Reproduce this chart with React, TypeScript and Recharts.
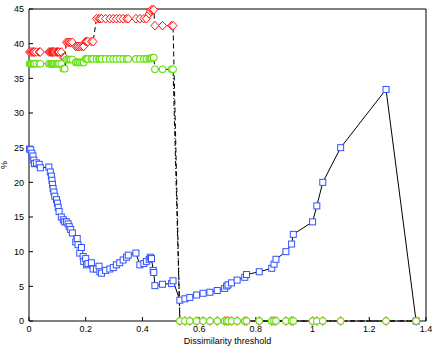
import React from "react";
import { LineChart, Line, XAxis, YAxis } from "recharts";

// thresholds shared by all three series
const thresholds = [
  0.002, 0.006, 0.01, 0.014, 0.017, 0.019, 0.026, 0.036, 0.04, 0.07,
  0.075, 0.079, 0.081, 0.083, 0.085, 0.088, 0.091, 0.097, 0.1, 0.103,
  0.106, 0.114, 0.121, 0.126, 0.132, 0.138, 0.142, 0.147, 0.153, 0.165,
  0.17, 0.173, 0.179, 0.185, 0.191, 0.193, 0.2, 0.203, 0.208, 0.22,
  0.226, 0.238, 0.247, 0.25, 0.256, 0.27, 0.285, 0.297, 0.308, 0.32,
  0.332, 0.344, 0.35, 0.377, 0.391, 0.405, 0.414, 0.424, 0.428, 0.432,
  0.438, 0.44, 0.444, 0.471, 0.503, 0.508, 0.532, 0.55, 0.567, 0.591,
  0.614, 0.638, 0.664, 0.69, 0.697, 0.702, 0.714, 0.734, 0.761, 0.767,
  0.812, 0.856, 0.864, 0.871, 0.906, 0.926, 0.932, 1.0, 1.015, 1.036,
  1.099, 1.259, 1.365,
];

const bluePct = [
  24.8, 24.7, 24.2, 23.8, 23.2, 22.7, 22.8, 22.6, 22.1, 22.2,
  21.5, 20.9, 20.3, 19.7, 19.1, 18.6, 18.0, 17.5, 17.0, 16.4,
  15.8, 15.0, 14.6, 14.3, 14.3, 14.0, 13.6, 13.2, 12.7, 11.4,
  11.9, 11.0, 9.8, 10.6, 9.3, 8.6, 9.0, 8.1, 8.3, 8.4,
  7.5, 7.5, 7.9, 7.1, 6.9, 7.3, 7.5, 7.7, 8.1, 8.4,
  8.8, 9.2, 9.5, 9.8, 8.1, 8.3, 8.6, 8.9, 9.2, 9.0,
  7.3, 7.0, 5.1, 5.3, 5.4, 5.8, 3.0, 3.2, 3.4, 3.75,
  4.0, 4.15, 4.4, 4.7, 5.05, 5.2, 5.5, 5.9, 6.3, 6.7,
  7.1, 7.6, 8.2, 8.9, 10.0, 11.1, 12.5, 14.3, 16.6, 20.0,
  25.0, 33.4, 0,
];

const redPct = [
  38.8, 38.8, 38.8, 38.8, 38.8, 38.8, 38.8, 38.8, 38.8, 38.8,
  38.8, 38.8, 38.8, 38.8, 38.8, 38.8, 38.8, 38.8, 38.8, 38.8,
  38.8, 38.8, 38.0, 38.0, 40.2, 40.2, 40.2, 40.2, 40.2, 39.6,
  39.6, 39.6, 39.6, 39.6, 39.6, 39.6, 40.3, 40.3, 40.3, 40.3,
  40.3, 43.6, 43.6, 43.6, 43.6, 43.6, 43.6, 43.6, 43.6, 43.6,
  43.6, 43.6, 43.6, 43.6, 43.6, 43.6, 43.6, 44.3, 44.7, 44.9,
  44.9, 44.9, 42.6, 42.6, 42.6, 42.6, 0, 0, 0, 0,
  0, 0, 0, 0, 0, 0, 0, 0, 0, 0,
  0, 0, 0, 0, 0, 0, 0, 0, 0, 0,
  0, 0, 0,
];

const greenPct = [
  37.1, 37.1, 37.1, 37.1, 37.1, 37.1, 37.1, 37.1, 37.1, 37.1,
  37.1, 37.1, 37.1, 37.1, 37.1, 37.1, 37.1, 37.1, 37.1, 37.1,
  37.1, 37.1, 36.4, 36.4, 37.7, 37.7, 37.7, 37.7, 37.7, 37.3,
  37.3, 37.3, 37.3, 37.3, 37.3, 37.3, 37.8, 37.8, 37.8, 37.8,
  37.8, 37.8, 37.8, 37.8, 37.8, 37.8, 37.8, 37.8, 37.8, 37.8,
  37.8, 37.8, 37.8, 37.8, 37.8, 37.8, 37.8, 37.8, 37.9, 37.9,
  38.0, 38.0, 36.3, 36.3, 36.3, 36.3, 0, 0, 0, 0,
  0, 0, 0, 0, 0, 0, 0, 0, 0, 0,
  0, 0, 0, 0, 0, 0, 0, 0, 0, 0,
  0, 0, 0,
];

const xTicks = [0, 0.2, 0.4, 0.6, 0.8, 1, 1.2, 1.4];
const yTicks = [0, 5, 10, 15, 20, 25, 30, 35, 40, 45];

const rows = thresholds.map((x, i) => ({
  x,
  blue: bluePct[i],
  red: redPct[i],
  green: greenPct[i],
}));

const BLUE = "#3050ff";
const RED = "#ff1010";
const GREEN = "#66e010";
const FONT = "'Liberation Sans', Arial, Helvetica, sans-serif";
const tickStyle = { fontSize: 9, fill: "#000", fontFamily: FONT };

const SquareDot = (props: any) => {
  const { cx, cy, index } = props;
  if (cx == null || cy == null) return <g key={index} />;
  return (
    <rect key={index} x={cx - 3} y={cy - 3} width={6} height={6}
      fill="#fff" stroke={BLUE} strokeWidth={1} />
  );
};

const DiamondDot = (props: any) => {
  const { cx, cy, index } = props;
  if (cx == null || cy == null) return <g key={index} />;
  const d = `M${cx},${cy - 4.3}L${cx + 4},${cy}L${cx},${cy + 4.3}L${cx - 4},${cy}Z`;
  return <path key={index} d={d} fill="#fff" stroke={RED} strokeWidth={1} />;
};

const CircleDot = (props: any) => {
  const { cx, cy, index } = props;
  if (cx == null || cy == null) return <g key={index} />;
  return <circle key={index} cx={cx} cy={cy} r={3.3} fill="#fff" stroke={GREEN} strokeWidth={1.1} />;
};

const YLabel = ({ viewBox }: any) => (
  <text
    x={viewBox.x + 7}
    y={viewBox.y + viewBox.height / 2}
    transform={`rotate(-90, ${viewBox.x + 7}, ${viewBox.y + viewBox.height / 2})`}
    textAnchor="middle"
    fontSize={9}
    fontFamily={FONT}
    fill="#000"
  >
    %
  </text>
);

export default function App() {
  return (
    <div style={{ position: "absolute", left: 0, top: 0, background: "#fff" }}>
      <LineChart width={436} height={347} data={rows}
        margin={{ top: 0, right: 0, bottom: 0, left: 0 }}>
        <XAxis dataKey="x" type="number" domain={[0, 1.4]} ticks={xTicks}
          height={26} stroke="#000" tickSize={-4} tickMargin={9} tick={tickStyle}
          label={{ value: "Dissimilarity threshold", position: "insideBottom", offset: 3,
            style: { fontSize: 9, fill: "#000", fontFamily: FONT } }} />
        <XAxis xAxisId="top" orientation="top" dataKey="x" type="number" domain={[0, 1.4]}
          ticks={xTicks} height={9} stroke="#000" tickSize={-4} tick={false} />
        <YAxis type="number" domain={[0, 45]} ticks={yTicks} width={29} stroke="#000"
          tickSize={-4} tickMargin={9} tick={tickStyle} label={<YLabel />} />
        <YAxis yAxisId="right" orientation="right" type="number" domain={[0, 45]}
          ticks={yTicks} width={10} stroke="#000" tickSize={-4} tick={false} />
        <Line dataKey="blue" stroke="#000" strokeWidth={1} dot={SquareDot}
          activeDot={false} isAnimationActive={false} />
        <Line dataKey="red" stroke="#000" strokeWidth={1} strokeDasharray="5 3"
          dot={DiamondDot} activeDot={false} isAnimationActive={false} />
        <Line dataKey="green" stroke="#000" strokeWidth={1} strokeDasharray="5 2 1 2"
          dot={CircleDot} activeDot={false} isAnimationActive={false} />
      </LineChart>
    </div>
  );
}
